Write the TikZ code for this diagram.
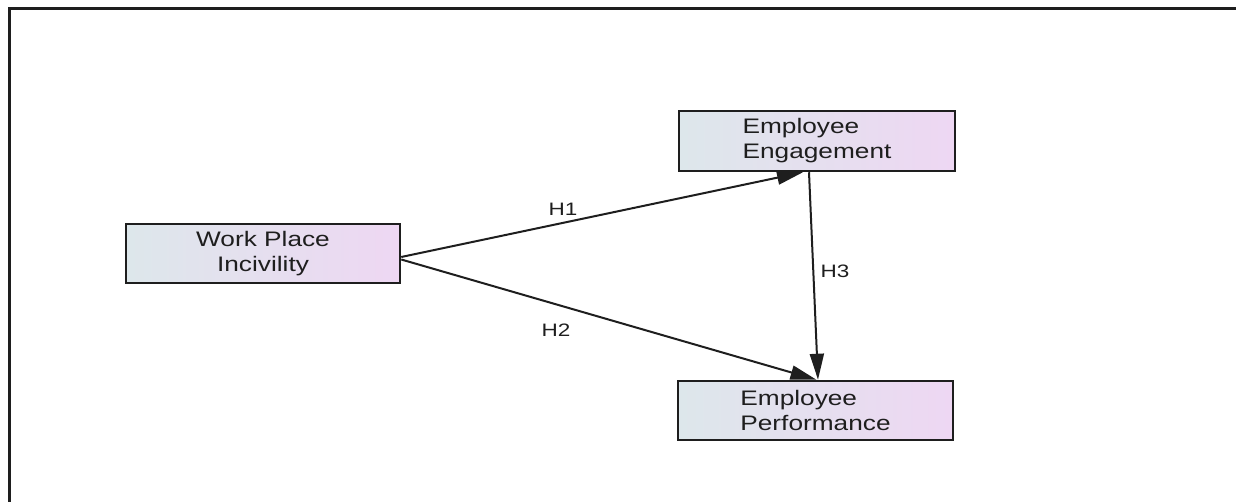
\documentclass[tikz,border=0pt]{standalone}
\usepackage{fontspec}
\setmainfont[FakeStretch=1.25]{Liberation Sans}
\usetikzlibrary{arrows.meta,calc}
\definecolor{boxleft}{RGB}{221,231,235}
\definecolor{boxright}{RGB}{238,215,243}
\definecolor{ink}{RGB}{30,30,30}
\tikzset{
  varbox/.style={draw=ink, line width=2.5pt, left color=boxleft, right color=boxright,
    inner sep=0pt, text=ink, font=\fontsize{21}{25}\selectfont},
  path/.style={draw=ink, line width=2pt, -{Triangle[length=26pt,width=14pt]}},
  hlabel/.style={text=ink, font=\fontsize{18}{20}\selectfont, inner sep=0pt}
}
\begin{document}
\begin{tikzpicture}[x=1pt,y=1pt]
\useasboundingbox (0,0) rectangle (1236,502);
\draw[ink, line width=3pt] (9,0) -- (9,493) -- (1236,493);
\node[varbox, minimum width=274pt, minimum height=59pt, align=center] (wpi) at (263,248.5) {Work Place\\Incivility};
\node[varbox, minimum width=276pt, minimum height=60pt, align=left] (ee) at (817,361) {Employee\\Engagement};
\node[varbox, minimum width=275pt, minimum height=59pt, align=left] (ep) at (815.5,91.5) {Employee\\Performance};
\draw[path] ($(wpi.east)+(0,-3.5)$) -- ($(ee.south)+(-14,0)$);
\draw[path] ($(wpi.east)+(0,-6)$) -- ($(ep.north)+(1,0)$);
\draw[path] ($(ee.south)+(-8,0)$) -- ($(ep.north)+(2.5,0)$);
\node[hlabel] (h1) at (563,292.5) {H1};
\node[hlabel] (h2) at (556,172) {H2};
\node[hlabel] (h3) at (835,231) {H3};
\end{tikzpicture}
\end{document}
